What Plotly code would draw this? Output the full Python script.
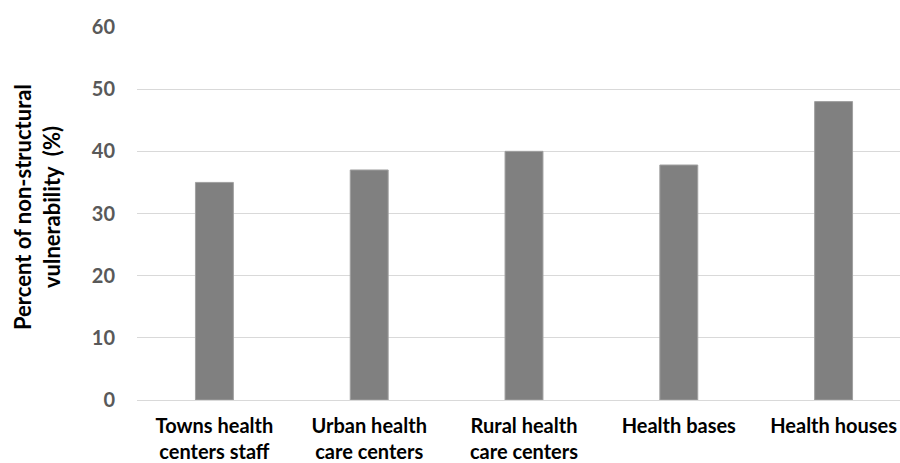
import plotly.graph_objects as go

categories = ["Towns health<br>centers staff", "Urban health<br>care centers",
              "Rural health<br>care centers", "Health bases", "Health houses"]
values = [35, 37, 40, 37.8, 48]
y_ticks = [0, 10, 20, 30, 40, 50, 60]

FONT = "Lato"
L, R, T, B = 137, 0, 27, 63
W, H = 900, 463
pw = W - L - R
unit = 154.8

fig = go.Figure(go.Bar(
    x=list(range(len(categories))), y=values,
    marker=dict(color="#808080", line=dict(color="#a0a0a0", width=1)),
    width=0.245,
))

fig.update_layout(
    width=W, height=H,
    margin=dict(l=L, r=R, t=T, b=B),
    plot_bgcolor="white", paper_bgcolor="white",
    showlegend=False,
    font=dict(family=FONT, size=20, color="black", weight="bold"),
    xaxis=dict(
        tickmode="array", tickvals=list(range(len(categories))), ticktext=categories,
        range=[-0.5, -0.5 + pw / unit],
        showgrid=False, zeroline=False, showline=False, ticks="",
        ticklabelstandoff=12, automargin=False,
        tickfont=dict(family=FONT, size=20, color="black", weight="bold"),
    ),
    yaxis=dict(
        range=[0, 60], tickvals=y_ticks,
        showgrid=True, gridcolor="#d9d9d9", gridwidth=1.3,
        zeroline=True, zerolinecolor="#d9d9d9", zerolinewidth=1.3,
        showline=False, ticks="",
        ticklabelstandoff=21, automargin=False,
        tickfont=dict(family=FONT, size=20, color="#595959", weight="bold"),
    ),
    annotations=[dict(
        text="Percent of non-structural<br>vulnerability  (%)",
        xref="paper", yref="paper",
        x=(37 - L) / pw, y=(400 - 207) / (400 - 27),
        xanchor="center", yanchor="middle",
        textangle=-90, showarrow=False,
        font=dict(family=FONT, size=22, color="black", weight="bold"),
    )],
)

fig.write_html("out.html")
